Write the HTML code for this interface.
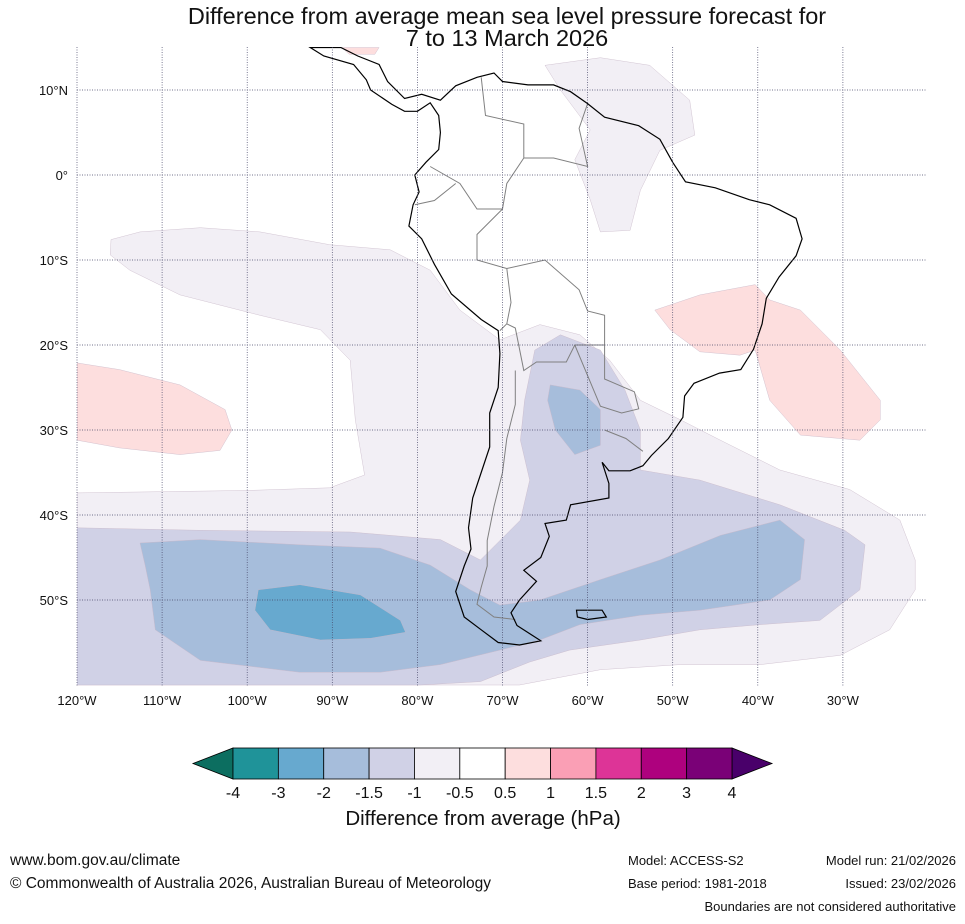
<!DOCTYPE html>
<html><head><meta charset="utf-8">
<style>
html,body{margin:0;padding:0;background:#fff;}
body{width:965px;height:919px;overflow:hidden;font-family:"Liberation Sans","DejaVu Sans",sans-serif;}
</style></head>
<body>
<svg id="chart" width="965" height="919" xmlns="http://www.w3.org/2000/svg" font-family="Liberation Sans, DejaVu Sans, sans-serif">
<text x="507" y="24" font-size="23.5" text-anchor="middle" fill="#111">Difference from average mean sea level pressure forecast for</text>
<text x="507" y="46" font-size="23.5" text-anchor="middle" fill="#111">7 to 13 March 2026</text>
<g id="map"></g>
<g id="cbar"></g>
<text x="483" y="825" font-size="20.5" text-anchor="middle" fill="#111">Difference from average (hPa)</text>
<text x="10" y="865" font-size="15.5" fill="#111">www.bom.gov.au/climate</text>
<text x="10" y="888" font-size="15.5" fill="#111">© Commonwealth of Australia 2026, Australian Bureau of Meteorology</text>
<text x="628" y="865" font-size="13" fill="#111">Model: ACCESS-S2</text>
<text x="956" y="865" font-size="13" text-anchor="end" fill="#111">Model run: 21/02/2026</text>
<text x="628" y="888" font-size="13" fill="#111">Base period: 1981-2018</text>
<text x="956" y="888" font-size="13" text-anchor="end" fill="#111">Issued: 23/02/2026</text>
<text x="956" y="911" font-size="13" text-anchor="end" fill="#111">Boundaries are not considered authoritative</text>
</svg>
<script>
const lonTicks=[-120,-110,-100,-90,-80,-70,-60,-50,-40,-30];
const lonLabels=["120°W","110°W","100°W","90°W","80°W","70°W","60°W","50°W","40°W","30°W"];
const latTicks=[10,0,-10,-20,-30,-40,-50];
const latLabels=["10°N","0°","10°S","20°S","30°S","40°S","50°S"];
const cbarLevels=[-4,-3,-2,-1.5,-1,-0.5,0.5,1,1.5,2,3,4];
const cbarColors=["#1f9399","#67a9cf","#a6bddb","#d0d1e6","#f2eff5","#ffffff","#fddede","#fa9fb5","#dd3497","#ae017e","#7a0177"];
const contourLav=[[-116,-7.6],[-112.6,-6.7],[-105.5,-6.2],[-98.5,-6.7],[-90.3,-8.2],[-83.2,-8.8],[-78.5,-11.2],[-75,-15.9],[-70.3,-19.4],[-65.6,-17.6],[-60.9,-18.8],[-57.4,-21.8],[-53.8,-26.5],[-49.1,-28.8],[-44.4,-31.2],[-37.4,-34.7],[-29.2,-37],[-23.3,-40.6],[-21.5,-45.3],[-21.5,-48.8],[-24.5,-53.5],[-30.3,-56.5],[-39.7,-57.6],[-49.1,-57.6],[-58.5,-58.2],[-68,-60],[-120,-60],[-120,-37.4],[-99.7,-37.1],[-90.3,-36.8],[-86.2,-35.3],[-87.3,-28.8],[-87.9,-21.8],[-91.4,-18.2],[-98.5,-16.5],[-107.9,-14.1],[-113.8,-11.2],[-116.1,-9.4]];
const contourLavNorth=[[-65,12.9],[-58.5,13.8],[-52.7,12.9],[-48,8.8],[-47.4,4.7],[-51.5,2.9],[-53.8,-1.8],[-55,-6.5],[-58.5,-6.7],[-59.7,-2.9],[-61.5,1.8],[-59.7,5.3],[-63.2,10]];
const contourPinkWest=[[-120,-22.1],[-115,-22.9],[-107.9,-24.7],[-102.6,-27.6],[-101.8,-30],[-103.2,-32.4],[-107.9,-32.9],[-115,-32.1],[-120,-31.2]];
const contourPinkEast=[[-52.1,-15.9],[-46.8,-14.1],[-40.3,-12.9],[-38.6,-14.7],[-35,-15.9],[-30.3,-20.6],[-25.6,-26.5],[-25.6,-28.8],[-28,-31.2],[-35,-30.6],[-38.6,-26.5],[-40.3,-20.6],[-42.1,-21.2],[-46.8,-20.8],[-50.3,-18.2]];
const contourPinkTop=[[-88.9,15],[-84.5,15],[-85,14.2],[-88,14.2]];
const contourM15=[[-120,-41.5],[-105.5,-41.8],[-87.9,-42],[-77.3,-42.9],[-72.6,-45.3],[-67.9,-40.6],[-66.8,-35.9],[-67.9,-31.2],[-67.4,-26.5],[-66.2,-20.6],[-63.2,-18.8],[-58.5,-20.6],[-55.6,-25.3],[-53.8,-30],[-53.8,-34.7],[-46.8,-35.9],[-37.4,-38.8],[-29.8,-41.8],[-27.4,-43.5],[-28,-48.8],[-32.7,-52.4],[-39.7,-52.9],[-46.8,-53.5],[-53.8,-54.7],[-62.1,-55.9],[-66.8,-57.3],[-72.6,-59.6],[-79.7,-60],[-120,-60]];
const contourM2=[[-112.6,-43.3],[-105.5,-42.9],[-93.8,-43.5],[-84.4,-43.9],[-78.5,-45.9],[-73.8,-48.8],[-70.3,-50.6],[-65.6,-50],[-58.5,-47.6],[-51.5,-45.3],[-44.4,-42.4],[-37.4,-40.6],[-34.5,-42.9],[-35,-47.6],[-38.6,-50],[-46.8,-51.2],[-53.8,-51.8],[-60.9,-52.9],[-65.6,-54.7],[-70.3,-55.9],[-77.3,-57.6],[-84.4,-58.5],[-93.8,-58.5],[-105.5,-57.1],[-110.8,-53.5],[-111.4,-48.8],[-112,-45.9]];
const contourM2Inland=[[-64.4,-24.7],[-60.9,-25.3],[-58.5,-27.6],[-58.5,-31.8],[-61.5,-32.9],[-63.8,-30],[-64.7,-26.5]];
const contourM3=[[-98.7,-48.8],[-93.8,-48.2],[-86.7,-49.4],[-82,-52.4],[-81.4,-53.8],[-85.5,-54.5],[-91.4,-54.7],[-97.3,-53.5],[-99.1,-51.2]];
const coast=[[-89,15],[-87,14],[-84.5,13],[-83.5,11],[-81.5,9],[-79.5,9.5],[-77.3,8.8],[-75.5,10.5],[-73,11.5],[-71,12],[-70,11],[-67,10.6],[-64,10.6],[-62,9.8],[-60,8.4],[-58,6.8],[-54,5.8],[-51.5,4.2],[-50,1.5],[-48.5,-0.8],[-45,-1.5],[-41,-2.9],[-38.6,-3.5],[-35.5,-5.1],[-34.8,-7.5],[-35.5,-9.5],[-37.5,-12],[-39,-14.5],[-39.5,-17.5],[-40.5,-20.5],[-42,-22.9],[-44.5,-23.3],[-47.5,-24.5],[-48.6,-26],[-48.8,-28.5],[-50.5,-31],[-52.5,-33],[-53.5,-34.2],[-55,-34.8],[-57.5,-34.8],[-58.3,-33.8],[-57.5,-36.3],[-57.5,-38],[-62,-38.8],[-62.5,-40.6],[-65,-41],[-64.5,-42.5],[-65.5,-45],[-67.5,-46.5],[-66,-47.8],[-68,-50],[-69,-51.5],[-68.3,-53],[-65.5,-54.8],[-68,-55.3],[-70.5,-55],[-72.5,-53.5],[-74.5,-52],[-75.5,-49],[-74.5,-46],[-73.7,-44],[-74,-41.5],[-73.5,-38],[-72.5,-35],[-71.5,-32],[-71.5,-28],[-70.5,-25],[-70.3,-21],[-70.5,-18.3],[-72.5,-17],[-76,-14],[-78,-10.5],[-79.5,-7.5],[-81,-6],[-80.5,-3.5],[-79.8,-2],[-80.3,0],[-79,1.5],[-77.5,3],[-77.3,5],[-77.5,7],[-78.5,8.5],[-80,7.5],[-81.5,7.5],[-83,8.3],[-85.5,10],[-86,11.2],[-87.5,13],[-91,14],[-92.6,15]];
const falklands=[[-61.3,-51.2],[-58.3,-51.2],[-57.8,-52],[-60,-52.3],[-61.2,-52]];
const borders=[[[-72.5,11.5],[-72,7],[-67.5,6],[-67.5,2],[-69.5,-1],[-70,-4],[-73,-4],[-75,-1],[-78.5,1]],[[-60,8.4],[-61,5.5],[-60,1],[-64,2],[-67.5,2]],[[-80.3,-3.5],[-78,-3],[-75.5,-1]],[[-70,-4],[-73,-7],[-73,-10],[-69.5,-11],[-69,-15],[-69.5,-17.5],[-70.3,-18.3]],[[-69.5,-11],[-65,-10],[-61,-13.5],[-60,-16],[-58,-16.5],[-58,-20],[-61.5,-20],[-62.5,-22],[-66,-22],[-67.5,-23],[-68.5,-18],[-69.5,-17.5]],[[-58,-20],[-58,-24],[-54.5,-25.5],[-54,-27.5],[-56,-28],[-58.5,-27.2],[-61.5,-20]],[[-68.5,-23],[-68.5,-27],[-69.5,-31],[-70,-35],[-71,-39],[-71.8,-43],[-71.8,-46],[-72.5,-48.5],[-73,-50.5],[-71,-52],[-68.5,-52.3]],[[-58,-30],[-55.5,-31],[-53.5,-32.5]]];

const NS="http://www.w3.org/2000/svg";
const X0=77,PXLON=8.51,Y0=175,PXLAT=8.5;
const xScale=lon=>X0+(lon+120)*PXLON;
const yScale=lat=>Y0-lat*PXLAT;
const map=document.getElementById('map');
function mk(tag,attrs,parent){const e=document.createElementNS(NS,tag);for(const k in attrs)e.setAttribute(k,attrs[k]);parent.appendChild(e);return e;}
function pts(arr){return arr.map(p=>xScale(p[0]).toFixed(1)+','+yScale(p[1]).toFixed(1)).join(' ');}
const clip=mk('clipPath',{id:'mclip'},mk('defs',{},map));
mk('rect',{x:77,y:47,width:850,height:639},clip);
const g=mk('g',{'clip-path':'url(#mclip)'},map);
const layers=[[contourLav,'#f2eff5','contour-minus-0-5'],[contourLavNorth,'#f2eff5','contour-minus-0-5-north'],[contourPinkWest,'#fddede','contour-plus-0-5-west'],[contourPinkEast,'#fddede','contour-plus-0-5-east'],[contourPinkTop,'#fddede','contour-plus-0-5-top'],[contourM15,'#d0d1e6','contour-minus-1'],[contourM2,'#a6bddb','contour-minus-1-5'],[contourM2Inland,'#a6bddb','contour-minus-1-5-inland'],[contourM3,'#67a9cf','contour-minus-2']];
layers.forEach(l=>{
  const p=mk('polygon',{points:pts(l[0]),fill:l[1],stroke:'#c8b8c8','stroke-width':0.4},g);
  
  
});
borders.forEach(b=>{
  const p=mk('polyline',{points:pts(b),fill:'none',stroke:'#808080','stroke-width':1},g);
  
  
});
const land=mk('polygon',{points:pts(coast),fill:'none',stroke:'#000','stroke-width':1.2},g);


const fk=mk('polygon',{points:pts(falklands),fill:'none',stroke:'#000','stroke-width':1.2},g);


lonTicks.forEach((lon,i)=>{
  const x=xScale(lon);
  const l=mk('line',{x1:x,x2:x,y1:47,y2:686,stroke:'#446','stroke-width':0.7,'stroke-dasharray':'1,1.5'},map);
  
  
  const t=mk('text',{x:x,y:705,'font-size':13,'text-anchor':'middle',fill:'#111'},map);
  t.textContent=lonLabels[i];
  
  
});
latTicks.forEach((lat,i)=>{
  const y=yScale(lat);
  const l=mk('line',{x1:77,x2:927,y1:y,y2:y,stroke:'#446','stroke-width':0.7,'stroke-dasharray':'1,1.5'},map);
  
  
  const t=mk('text',{x:68,y:y+5,'font-size':13,'text-anchor':'end',fill:'#111'},map);
  t.textContent=latLabels[i];
  
  
});
const cb=document.getElementById('cbar');
const CB0=233,CB1=732,CBY=748,CBH=31;
const cbX=i=>CB0+(CB1-CB0)*i/(cbarLevels.length-1);
const lt=mk('polygon',{points:`193,${CBY+CBH/2} ${CB0},${CBY} ${CB0},${CBY+CBH}`,fill:'#0c6e60',stroke:'#000','stroke-width':0.8},cb);


const rt=mk('polygon',{points:`772,${CBY+CBH/2} ${CB1},${CBY} ${CB1},${CBY+CBH}`,fill:'#49006a',stroke:'#000','stroke-width':0.8},cb);


cbarColors.forEach((c,i)=>{
  const r=mk('rect',{x:cbX(i),y:CBY,width:cbX(i+1)-cbX(i),height:CBH,fill:c,stroke:'#000','stroke-width':0.8},cb);
  
  
});
cbarLevels.forEach((v,i)=>{
  const t=mk('text',{x:cbX(i),y:798,'font-size':16,'text-anchor':'middle',fill:'#111'},cb);
  t.textContent=String(v);
  
  
});
</script>
</body></html>
